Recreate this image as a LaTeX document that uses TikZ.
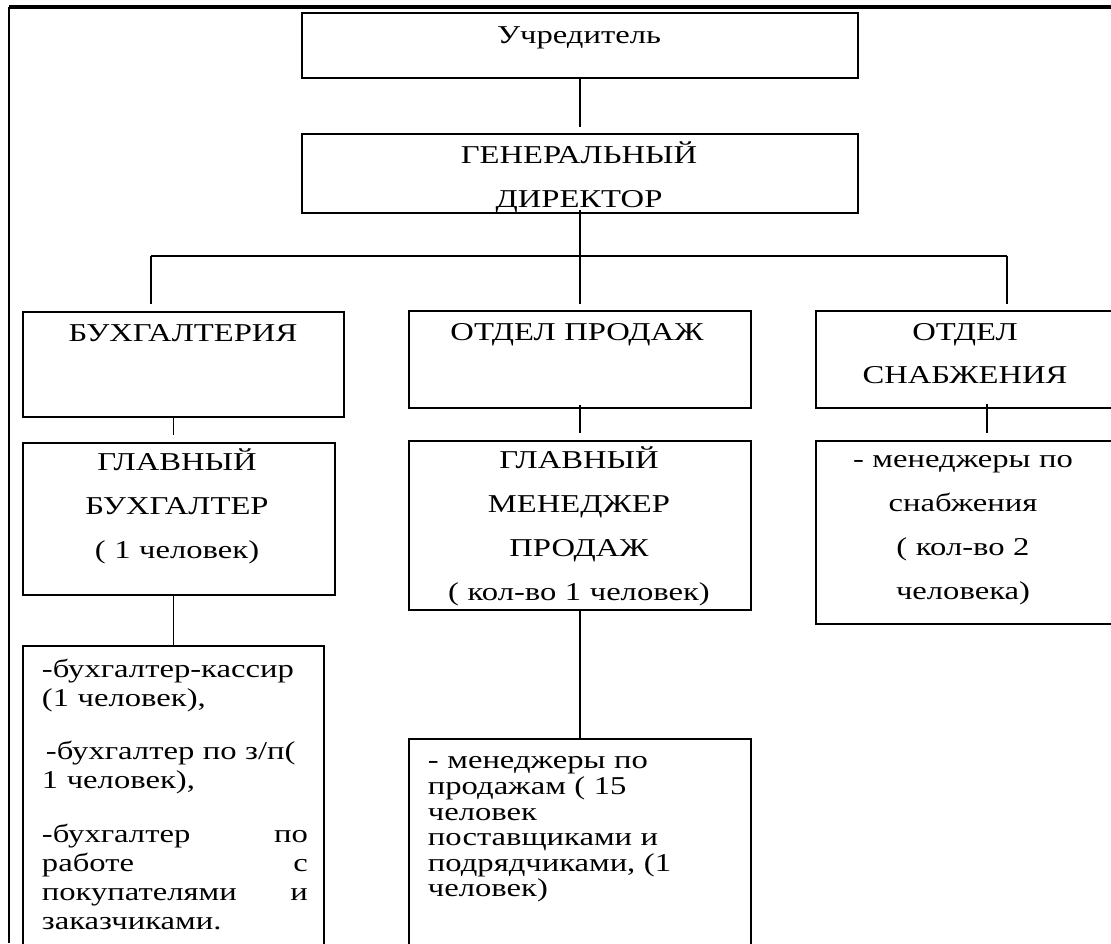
\documentclass[tikz,border=0pt]{standalone}
\usepackage{fontspec}
\setmainfont[FakeStretch=1.27]{Liberation Serif}
\usepackage{tikz}

\tikzset{
    unit/.style = {draw, line width=1.9pt, anchor=north west, inner sep=0pt},
    caption/.style = {anchor=north, inner sep=0pt, align=center, text width=#1,
        font=\fontsize{25.7}{44}\selectfont},
    staff/.style = {anchor=north west, inner sep=0pt, align=left, text width=#1}
}

\begin{document}
\begin{tikzpicture}[x=1pt, y=-1pt, line width=1.9pt]
        \useasboundingbox (0,0) rectangle (1111,943);
        \clip (0,0) rectangle (1111,943);

        % page frame
        \draw[line width=3.2pt] (9,7) -- (1111,7);
        \draw (9,7) -- (9,943);

        % boxes
        \node[unit, minimum width=556pt, minimum height=65pt] (uch) at (301,12) {};
        \node[unit, minimum width=556pt, minimum height=79pt] (gen) at (301,133) {};
        \node[unit, minimum width=321pt, minimum height=105pt] (buh) at (22,311) {};
        \node[unit, minimum width=342pt, minimum height=97pt] (prod) at (408,310) {};
        \node[unit, minimum width=300pt, minimum height=97pt] (snab) at (815,310) {};
        \node[unit, minimum width=312pt, minimum height=152pt] (gb) at (22,442) {};
        \node[unit, minimum width=342pt, minimum height=169pt] (gmp) at (408,440) {};
        \node[unit, minimum width=300pt, minimum height=183pt] (msnab) at (815,440) {};
        \node[unit, minimum width=301pt, minimum height=320pt] (lbuh) at (22,645) {};
        \node[unit, minimum width=342pt, minimum height=220pt] (lprod) at (408,738) {};

        % texts
        \node[caption=540pt] (uch-t) at (579,12.2) {\strut Учредитель};
        \node[caption=540pt] (gen-t) at (579,132.2) {\strut ГЕНЕРАЛЬНЫЙ\\ДИРЕКТОР};
        \node[caption=310pt] (buh-t) at (183,310.2) {\strut БУХГАЛТЕРИЯ};
        \node[caption=330pt] (prod-t) at (577,309.2) {\strut ОТДЕЛ ПРОДАЖ};
        \node[caption=290pt, font=\fontsize{25.7}{43}\selectfont] (snab-t) at (965,309.9)
            {\strut ОТДЕЛ\\СНАБЖЕНИЯ};
        \node[caption=300pt] (gb-t) at (177,439.2) {\strut ГЛАВНЫЙ\\БУХГАЛТЕР\\( 1 человек)};
        \node[caption=340pt] (gmp-t) at (579,437.2)
            {\strut ГЛАВНЫЙ\\МЕНЕДЖЕР\\ПРОДАЖ\\( кол-во 1 человек)};
        \node[caption=290pt] (msnab-t) at (963,436.2)
            {\strut - менеджеры по\\снабжения\\( кол-во 2\\человека)};
        \node[staff=266pt, font=\fontsize{25.7}{29}\selectfont] (lbuh-t) at (41,656.7)
            {\strut -бухгалтер-кассир\\(1 человек),\\[24pt]
             \hspace*{4pt}-бухгалтер по з/п(\\1 человек),\\[25pt]
             -бухгалтер\hfill по\\работе\hfill с\\покупателями\hfill и\\заказчиками.};
        \node[staff=310pt, font=\fontsize{25.7}{25.6}\selectfont] (lprod-t) at (427,750.1)
            {\strut - менеджеры по\\продажам ( 15\\человек\\поставщиками и\\подрядчиками, (1\\человек)};

        % links
        \coordinate (busL) at (151,256);
        \coordinate (busR) at (1007,256);
        \draw (uch.south) -- ([yshift=6pt]gen.north);
        \draw ([yshift=4pt]gen.south) -- ([yshift=6pt]prod.north);
        \draw (busL) -- (busR);
        \draw (busL) -- ++(0,48);
        \draw (busR) -- ++(0,48);
        \draw (buh.south -| lbuh.north) -- ++(0,17);
        \draw (gb.south -| lbuh.north) -- (lbuh.north);
        \draw ([yshift=4pt]prod.south) -- ([yshift=7pt]gmp.north);
        \draw (gmp.south) -- (lprod.north);
        \draw ([xshift=21pt,yshift=5pt]snab.south) -- ([xshift=21pt,yshift=7pt]msnab.north);
    \end{tikzpicture}
\end{document}
